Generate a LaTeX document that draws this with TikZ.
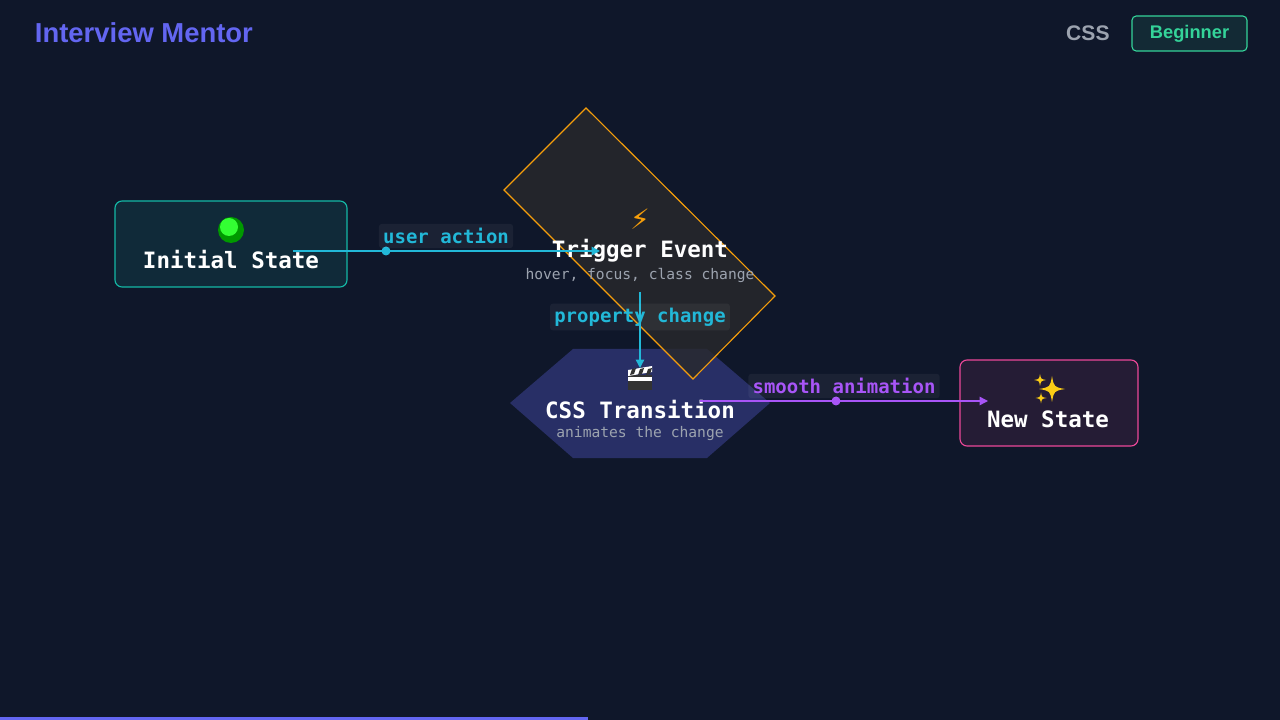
\documentclass[tikz,border=0pt]{standalone}
\usepackage{fontspec}
\setmainfont{Liberation Sans}
\setmonofont{DejaVu Sans Mono}
\newfontfamily\symfont{DejaVu Sans}
\usetikzlibrary{arrows.meta,positioning}

\definecolor{bgdark}{HTML}{0F172A}
\definecolor{mentor}{HTML}{6366F1}
\definecolor{okgreen}{HTML}{34D399}
\definecolor{teal}{HTML}{14B8A6}
\definecolor{cyanline}{HTML}{22B8D8}
\definecolor{amber}{HTML}{F59E0B}
\definecolor{violet}{HTML}{A855F7}
\definecolor{pinkedge}{HTML}{EC4899}
\definecolor{subgray}{HTML}{9CA3AF}
\definecolor{trigfill}{HTML}{29292C}
\definecolor{sparkle}{HTML}{FACC15}

\tikzset{
  state/.style={draw, rounded corners=5pt, line width=0.8pt, minimum width=232*0.025cm, minimum height=86*0.025cm},
  title/.style={font=\ttfamily\bfseries\fontsize{16}{18}\selectfont, text=white},
  sub/.style={font=\ttfamily\fontsize{10.4}{12}\selectfont, text=subgray},
  flow/.style={line width=1pt, -{Triangle[length=6pt,width=6pt]}},
  tag/.style={font=\ttfamily\bfseries\fontsize{13.5}{15}\selectfont, fill=white, fill opacity=0.05, text opacity=1, rounded corners=2pt, inner sep=3pt},
  star4/.style={fill=sparkle}
}

\begin{document}
\begin{tikzpicture}[x=0.025cm, y=-0.025cm]
\fill[bgdark] (0,0) rectangle (1280,720);
\useasboundingbox (0,0) rectangle (1280,720);

% header
\node[anchor=west, font=\bfseries\fontsize{19.5}{22}\selectfont, text=mentor] (brand) at (30,33) {Interview Mentor};
\node[draw=okgreen, fill=okgreen!10!bgdark, rounded corners=3pt, line width=0.8pt, minimum width=115*0.025cm, minimum height=35*0.025cm, font=\bfseries\fontsize{13}{15}\selectfont, text=okgreen] (level) at (1189.5,33.5) {Beginner};
\node[font=\bfseries\fontsize{15}{17}\selectfont, text=subgray, left=12pt of level.west, anchor=east] (topic) {CSS};

% progress bar
\fill[mentor] (0,717) rectangle (588,720);

% initial state
\node[state, draw=teal, fill=teal!12!bgdark] (init) at (231,244) {};
\fill[green!60!black] (231,230) circle (13);
\fill[green!80!white] (229,227) circle (9);
\node[title] (initT) at (231,260) {Initial State};

% css transition (under the trigger)
\fill[mentor!30!bgdark] (510,403) -- (573,349) -- (707,349) -- (770,403) -- (707,458) -- (573,458) -- cycle;

% trigger event
\fill[trigfill, fill opacity=0.8] (586,108) -- (775,296) -- (693,379) -- (504,190) -- cycle;
\draw[amber, line width=0.8pt] (586,108) -- (775,296) -- (693,379) -- (504,190) -- cycle;
\node[font=\symfont\fontsize{20}{22}\selectfont, text=amber] (bolt) at (640,219) {⚡};
\node[title] (trig) at (640,251) {Trigger Event};
\node[sub] (trigS) at (640,275) {hover, focus, class change};

\begin{scope}[shift={(640,378)}]
  \fill[black!80] (-12,-3) rectangle (12,12);
  \fill[white] (-12,-8) -- (12,-12) -- (12,-6) -- (-12,-2) -- cycle;
  \foreach \k in {-8,0,8} \fill[black!80] (\k,-9) -- (\k+4,-10) -- (\k+2,-4) -- (\k-2,-3) -- cycle;
  \fill[white] (-12,-1) rectangle (12,3);
\end{scope}
\node[title] (trans) at (640,410) {CSS Transition};
\node[sub] (transS) at (640,434) {animates the change};

% new state
\node[state, draw=pinkedge, fill=pinkedge!10!bgdark, minimum width=178*0.025cm] (new) at (1049,403) {};
\foreach \cx/\cy/\r in {1052/389/13, 1040/380/6, 1041/398/5.5}
  \fill[star4] (\cx,\cy-\r) .. controls (\cx+0.15*\r,\cy-0.15*\r) .. (\cx+\r,\cy) .. controls (\cx+0.15*\r,\cy+0.15*\r) .. (\cx,\cy+\r) .. controls (\cx-0.15*\r,\cy+0.15*\r) .. (\cx-\r,\cy) .. controls (\cx-0.15*\r,\cy-0.15*\r) .. cycle;
\node[title] (newT) at (1048,419) {New State};

% connectors
\coordinate (a1) at (293,251);
\coordinate (a2) at (600,251);
\coordinate (b1) at (640,292);
\coordinate (b2) at (640,368);
\coordinate (c1) at (700,401);
\coordinate (c2) at (988,401);
\draw[flow, cyanline] (a1) -- (a2);
\draw[flow, cyanline] (b1) -- (b2);
\draw[flow, violet] (c1) -- (c2);
\fill[cyanline] (386,251) circle (4.5);
\fill[violet] (836,401) circle (4.5);
\node[tag, text=cyanline] (lblA) at (446,236) {user action};
\node[tag, text=cyanline] (lblB) at (640,317) {property change};
\node[tag, text=violet] (lblC) at (844,386) {smooth animation};
\end{tikzpicture}
\end{document}
